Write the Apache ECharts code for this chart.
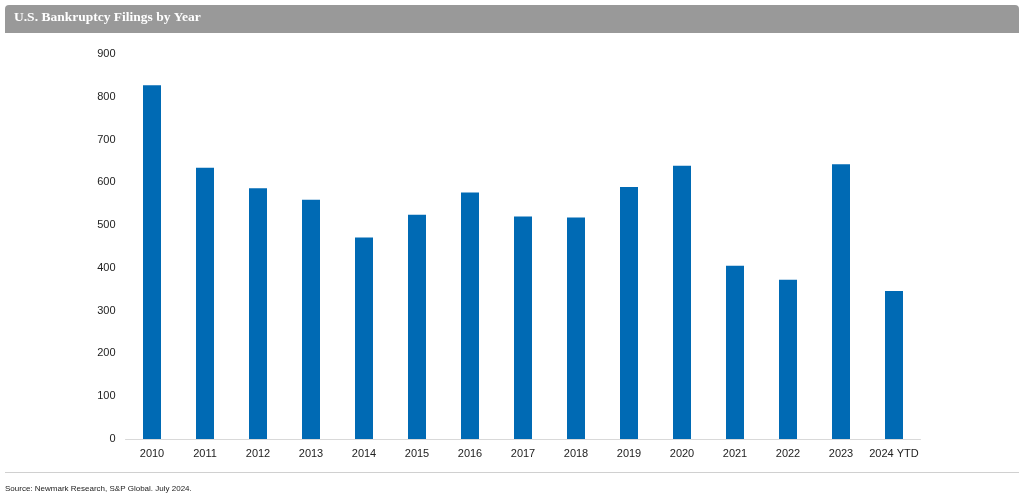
<!DOCTYPE html>
<html><head><meta charset="utf-8">
<script src="https://cdn.jsdelivr.net/npm/echarts@6/dist/echarts.min.js"></script>
<style>html,body{margin:0;padding:0;background:#fff}#c{width:1024px;height:499px}</style>
</head><body><div id="c"></div>
<script>
const categories = ['2010','2011','2012','2013','2014','2015','2016','2017','2018','2019','2020','2021','2022','2023','2024 YTD'];
const filings = [827, 634, 586, 559, 471, 524, 576, 520, 518, 589, 639, 405, 372, 642, 346];
const yTicks = {min: 0, max: 900, interval: 100};
const titleText = 'U.S. Bankruptcy Filings by Year';
const sourceText = 'Source: Newmark Research, S&P Global. July 2024.';

const chart = echarts.init(document.getElementById('c'), null, {renderer: 'canvas'});
chart.setOption({
  animation: false,
  graphic: [
    {type: 'rect', left: 5, top: 5, shape: {width: 1014, height: 28, r: [4,4,0,0]}, style: {fill: '#999999'}},
    {type: 'text', left: 14, top: 11, style: {text: titleText, fill: '#ffffff', font: 'bold 13.5px "Liberation Serif", "DejaVu Serif", serif'}},
    {type: 'rect', left: 5, top: 472, shape: {width: 1014, height: 1}, style: {fill: '#d0d0d0'}},
    {type: 'text', left: 5, top: 485, style: {text: sourceText, fill: '#222222', font: '8px "Liberation Sans", Arial, sans-serif'}}
  ],
  grid: {left: 125.5, right: 103.5, top: 54, bottom: 60, containLabel: false},
  xAxis: {
    type: 'category', data: categories,
    axisLine: {lineStyle: {color: '#d9d9d9'}},
    axisTick: {show: false},
    axisLabel: {interval: 0, color: '#222', fontSize: 11, fontFamily: '"Liberation Sans", Arial, sans-serif', margin: 9}
  },
  yAxis: {
    type: 'value', min: yTicks.min, max: yTicks.max, interval: yTicks.interval,
    splitLine: {show: false}, axisLine: {show: false}, axisTick: {show: false},
    axisLabel: {color: '#222', fontSize: 11, fontFamily: '"Liberation Sans", Arial, sans-serif', margin: 10}
  },
  series: [{
    type: 'bar', data: filings, barWidth: 18,
    itemStyle: {color: '#006AB4'}
  }]
});
</script></body></html>
